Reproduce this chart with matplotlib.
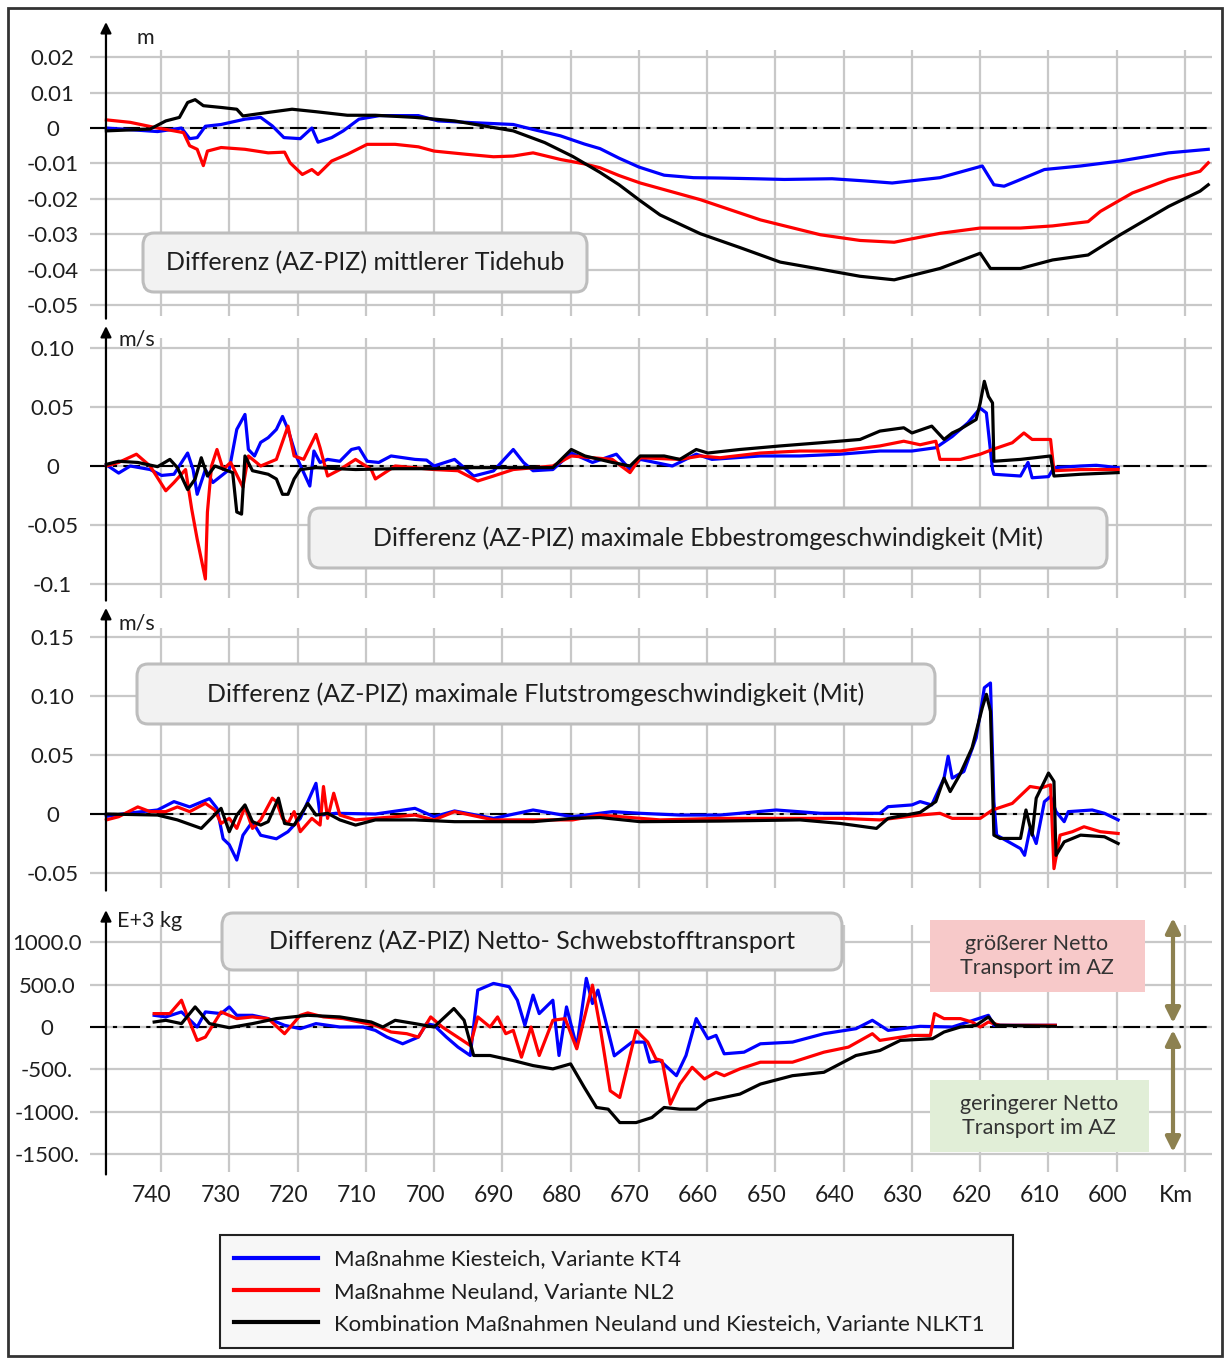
import matplotlib
matplotlib.use("Agg")
import matplotlib.pyplot as plt
from matplotlib.patches import FancyBboxPatch, Rectangle
from matplotlib.transforms import ScaledTranslation

plt.rcParams['font.family'] = ['Lato', 'DejaVu Sans']

# ---- data ----
# panel 1: mittlerer Tidehub [m]
kt4_tide_km = [748, 740.5, 737, 735.8, 734.7, 733.5, 731.2, 727.7, 725.4, 723.7, 722, 719.6, 717.9, 717, 715,
               713.3, 711, 708, 702.3, 699.4, 694.2, 688.4, 685.5, 681.5, 678, 675.7, 672.9, 670, 666.3, 662,
               658.1, 653, 648.7, 641.7, 637, 632.9, 625.9, 619.7, 618, 616.5, 614.7, 610.6, 605.3, 599.5, 592.4, 586.6]
kt4_tide = [0.0, -0.001, 0.0, -0.003, -0.0027, 0.0005, 0.001, 0.0025, 0.003, 0.0006, -0.0027, -0.003, 0.0, -0.004,
            -0.0027, -0.0008, 0.0025, 0.0035, 0.0035, 0.002, 0.0015, 0.001, -0.0004, -0.0022, -0.0045, -0.0058,
            -0.0085, -0.011, -0.0133, -0.014, -0.0141, -0.0143, -0.0145, -0.0143, -0.0149, -0.0155, -0.014,
            -0.0107, -0.016, -0.0164, -0.015, -0.0117, -0.0107, -0.0093, -0.007, -0.006]

nl2_tide_km = [748, 744.5, 740.5, 738.1, 736.7, 735.8, 734.7, 733.8, 733.2, 731.2, 727.7, 724.3, 721.9, 721.1,
               719.3, 717.9, 717, 715, 712.7, 709.8, 705.7, 702.3, 700, 695.3, 691.3, 688.4, 685.5, 681.4, 678,
               675.7, 672.9, 669.8, 661, 652.2, 643.4, 637.6, 632.6, 625.9, 620, 614.1, 609.4, 604.2, 602.4,
               597.7, 592.4, 587.8, 586.6]
nl2_tide = [0.0023, 0.0016, 0.0, -0.0008, -0.0013, -0.005, -0.006, -0.0106, -0.0065, -0.0055, -0.006, -0.007,
            -0.0068, -0.0098, -0.0131, -0.0117, -0.0131, -0.0093, -0.0074, -0.0046, -0.0046, -0.0053, -0.0065,
            -0.0074, -0.0081, -0.0079, -0.007, -0.0089, -0.0101, -0.0112, -0.0134, -0.0155, -0.0202, -0.0259,
            -0.0301, -0.0317, -0.0322, -0.0297, -0.0282, -0.0282, -0.0276, -0.0264, -0.0235, -0.0183, -0.0145,
            -0.0122, -0.0098]

nlkt1_tide_km = [748, 741.6, 739.3, 737.3, 736.1, 735, 733.8, 731.2, 728.9, 728, 724.3, 720.8, 717.3, 712.7,
                 708.6, 702.8, 697, 692.4, 688.4, 683.8, 679.7, 675.7, 672.9, 669.8, 666.9, 661, 655.2, 649.3,
                 643.4, 637.6, 632.6, 625.9, 620, 618.5, 614.1, 609.4, 604.2, 599.5, 592.4, 587.8, 586.6]
nlkt1_tide = [-0.0008, -0.0003, 0.002, 0.003, 0.0072, 0.008, 0.0063, 0.0058, 0.0053, 0.0034, 0.0044, 0.0053,
              0.0046, 0.0036, 0.0036, 0.003, 0.002, 0.0005, -0.0008, -0.0041, -0.008, -0.0125, -0.016, -0.0205,
              -0.0245, -0.0298, -0.0337, -0.0378, -0.0398, -0.0418, -0.0428, -0.0396, -0.0353, -0.0396, -0.0396,
              -0.0372, -0.0358, -0.0301, -0.0221, -0.0178, -0.016]

# panel 2: maximale Ebbestromgeschwindigkeit [m/s]
kt4_ebb_km = [748, 746.2, 744.5, 741.6, 739.9, 738.1, 736.1, 735.3, 734.7, 733.5, 732.4, 730, 728.9, 727.7, 727.2,
              726.3, 725.4, 724.3, 723.1, 722.2, 721.4, 720.2, 719.1, 718.2, 717.6, 716.7, 715.6, 713.8, 712.1, 711,
              709.8, 708.1, 706.3, 702.8, 701.1, 700, 697, 694.2, 691.3, 688.4, 686.9, 685.5, 682.6, 679.9, 676.8,
              673.3, 671.3, 669.8, 665.1, 661.6, 659.3, 652.2, 646.4, 640.5, 634.7, 630, 626.5, 624.1, 621.8, 620,
              619.1, 618.2, 618, 614.1, 613, 612.4, 610, 609.2, 605.3, 603, 599.8]
kt4_ebb = [0.001, -0.006, 0, -0.003, -0.008, -0.007, 0.011, -0.003, -0.024, -0.003, -0.014, -0.003, 0.031, 0.0437,
           0.014, 0.0085, 0.02, 0.024, 0.031, 0.042, 0.031, 0.0085, -0.0056, -0.017, 0.0127, 0.003, 0.0056, 0.004,
           0.014, 0.0155, 0.004, 0.003, 0.0085, 0.0056, 0.005, 0, 0.0056, -0.0085, -0.0042, 0.014, 0.003, -0.004,
           -0.003, 0.011, 0.003, 0.01, -0.003, 0.0056, 0, 0.01, 0.0056, 0.0085, 0.0085, 0.01, 0.0127, 0.0127,
           0.0155, 0.025, 0.0366, 0.049, 0.045, -0.003, -0.007, -0.0085, 0.003, -0.01, -0.009, -0.0014, 0, 0.0006,
           -0.0014]

nl2_ebb_km = [748, 746.2, 743.6, 741.6, 739.3, 738.1, 736.4, 735.5, 734.7, 733.5, 733.2, 732.6, 731.8, 730.9,
              729.8, 728, 727.2, 725.4, 723.1, 721.4, 720.5, 719.1, 717.3, 716.7, 715.6, 713.8, 711.5, 709.2, 708.6,
              705.7, 700, 696.5, 693.6, 691.3, 688.4, 682.6, 679.9, 676.8, 673.9, 671.3, 669.8, 664, 661, 658.1,
              652.2, 646.4, 640.5, 634.7, 631.2, 628.8, 626.5, 625.9, 622.9, 620, 618.2, 615.3, 613.6, 612.4, 609.7,
              609.2, 605.3, 599.8]
nl2_ebb = [0, 0.003, 0.01, 0, -0.021, -0.014, -0.003, -0.0366, -0.062, -0.0958, -0.039, 0, 0.014, -0.003, 0.003,
           -0.018, 0.0085, 0, 0.0056, 0.0338, 0.0085, 0.0056, 0.0268, 0.0155, -0.0085, -0.003, 0.0056, -0.003,
           -0.011, 0, -0.003, -0.004, -0.0127, -0.0085, -0.003, 0, 0.0085, 0.007, 0.0056, -0.0056, 0.007, 0.0056,
           0.0085, 0.007, 0.011, 0.0127, 0.0127, 0.017, 0.021, 0.018, 0.021, 0.0056, 0.0056, 0.01, 0.014, 0.0197,
           0.028, 0.0225, 0.0225, -0.004, -0.003, -0.003]

nlkt1_ebb_km = [748, 746.2, 743.4, 740.5, 738.7, 737.6, 736.1, 735, 734.1, 733.2, 732.1, 729.5, 728.9, 728.2, 727.7,
                726.6, 724.3, 723.1, 722.2, 721.4, 720.5, 719.6, 717.3, 711.5, 705.7, 700, 694.2, 688.4, 682.6,
                679.9, 677.9, 673.9, 671.3, 669.8, 666.3, 664, 661.6, 659.9, 655.2, 649.3, 643.4, 637.6, 634.7,
                631.2, 630, 627.1, 625.3, 624.1, 623, 620.6, 620, 619.4, 618.8, 618.2, 618, 614.1, 609.7, 609.2,
                605.3, 599.8]
nlkt1_ebb = [0.0014, 0.004, 0.003, -0.0006, 0.0056, -0.0014, -0.02, -0.011, 0.007, -0.0085, 0, -0.0056, -0.039,
             -0.0408, 0.0085, -0.004, -0.007, -0.011, -0.024, -0.024, -0.011, -0.003, -0.0014, -0.003, -0.0023,
             -0.0023, -0.0014, -0.0014, -0.0014, 0.014, 0.0085, 0.003, 0, 0.0085, 0.0085, 0.0056, 0.014, 0.011,
             0.014, 0.017, 0.0197, 0.0225, 0.0296, 0.0324, 0.028, 0.0338, 0.0225, 0.028, 0.031, 0.0394, 0.0535,
             0.0718, 0.059, 0.0535, 0.004, 0.0056, 0.0085, -0.0085, -0.007, -0.0056]

# panel 3: maximale Flutstromgeschwindigkeit [m/s]
kt4_flood_km = [748, 745, 740.5, 738.1, 735.8, 732.9, 731.8, 730.9, 730, 728.9, 728, 726.6, 725.4, 723.1, 721.4,
                719.6, 717.3, 716.7, 714.4, 708.6, 702.8, 700, 697, 691.3, 685.5, 679.7, 673.9, 669.8, 664, 658.1,
                649.9, 643.4, 634.7, 633.5, 630, 628.8, 627.1, 625.3, 624.7, 624.1, 622.4, 620.6, 619.7, 619.4,
                618.5, 618, 617.6, 614.1, 613.5, 612.7, 611.8, 610.6, 609.7, 608.9, 607.7, 607.1, 603.6, 601.8, 599.8]
kt4_flood = [-0.002, 0.0006, 0.0034, 0.0105, 0.006, 0.013, 0.0048, -0.021, -0.026, -0.039, -0.018, -0.0065, -0.018,
             -0.021, -0.015, -0.0037, 0.026, -0.001, 0.0006, 0, 0.0048, -0.0023, 0.0026, -0.0037, 0.0034, -0.0023,
             0.002, 0.0006, -0.0009, -0.0009, 0.0034, 0.0006, 0.0006, 0.0062, 0.0077, 0.0105, 0.0077, 0.0304,
             0.0489, 0.0304, 0.036, 0.0645, 0.0957, 0.107, 0.111, 0.0105, -0.0179, -0.0293, -0.035, -0.0122,
             -0.025, 0.0105, 0.0148, 0.002, -0.0065, 0.002, 0.0034, 0.0006, -0.005]

nl2_flood_km = [748, 746.2, 743.4, 741.6, 739.3, 737.6, 735.8, 733.5, 732.1, 731.2, 730, 728.9, 727.7, 726.6, 725.4,
                723.7, 723.1, 722.2, 721.4, 720.5, 719.6, 717.9, 716.7, 716.2, 715.6, 714.7, 713.8, 711.5, 705.7,
                702.8, 700, 697, 691.3, 685.5, 679.7, 675.7, 666.9, 658.1, 649.3, 640.5, 634.7, 628.8, 625.9, 624.1,
                620, 618.2, 615.3, 612.7, 611.2, 609.7, 609.2, 608.3, 606.5, 604.8, 602.4, 599.8]
nl2_flood = [-0.005, -0.0023, 0.006, 0.002, 0.002, 0.006, 0.002, 0.009, 0.0034, -0.008, -0.0037, -0.0122, 0.006,
             -0.0122, -0.005, 0.0134, 0.0105, -0.0037, -0.008, 0.002, -0.015, -0.0037, -0.0094, 0.0233, -0.0037,
             0.0176, -0.0009, -0.005, -0.0023, -0.0009, -0.005, 0.002, -0.005, -0.005, -0.005, -0.0009, -0.005,
             -0.0037, -0.0037, -0.0037, -0.005, -0.0009, 0.0006, -0.0037, -0.0037, 0.0034, 0.009, 0.0233, 0.0219,
             0.0247, -0.0463, -0.0179, -0.015, -0.0108, -0.015, -0.0165]

nlkt1_flood_km = [748, 740.5, 737.6, 734.1, 731.2, 730, 728.9, 727.7, 726.6, 725.4, 724.3, 722.8, 721.9, 720.5,
                  718.5, 717.3, 715.6, 713.8, 711.5, 708.6, 702.8, 697, 685.5, 679.7, 675.7, 669.8, 658.1, 646.4,
                  640.5, 635.2, 633.5, 628.8, 626.5, 625.3, 624.4, 623, 621.2, 619.7, 619.1, 618.5, 618, 617.1,
                  614.1, 613.3, 612.4, 611.8, 610, 609.2, 608.9, 607.7, 605.3, 601.8, 599.8]
nlkt1_flood = [0, -0.0009, -0.005, -0.0122, 0.0048, -0.015, -0.0009, 0.0077, -0.0065, -0.0094, -0.0065, 0.0134,
               -0.008, -0.0094, 0.009, -0.0009, 0.0006, -0.005, -0.0094, -0.005, -0.005, -0.0065, -0.0065, -0.0037,
               -0.003, -0.0065, -0.006, -0.005, -0.008, -0.0122, -0.0037, 0.0014, 0.0105, 0.0304, 0.019, 0.0332,
               0.056, 0.09, 0.1014, 0.087, -0.0179, -0.0207, -0.0207, 0.0034, -0.0179, 0.0134, 0.0347, 0.0276,
               -0.035, -0.0236, -0.0179, -0.0193, -0.025]

# panel 4: Netto-Schwebstofftransport [E+3 kg]
kt4_sed_km = [741, 739.3, 737, 734.7, 733.5, 731.2, 730, 728.9, 726.6, 724.3, 721.9, 719.6, 717.3, 713.8, 710.4,
              708.6, 706.9, 704.6, 702.3, 701.1, 700, 698.2, 696.5, 694.7, 693.6, 691.3, 689, 687.8, 686.7, 685.5,
              684.6, 682.6, 681.7, 680.6, 679.1, 677.7, 676.8, 676, 673.6, 671, 669.2, 668.4, 666.9, 664.5, 663.1,
              661.6, 659.9, 658.7, 657.5, 654.6, 652.2, 647.5, 642.9, 638.2, 635.8, 633.5, 628.8, 624.1, 621.8,
              618.8, 618, 609]
kt4_sed = [138, 119, 178, 0, 178, 158, 237, 138, 138, 99, 20, -20, 40, 0, 0, -40, -119, -198, -119, 40, 20, -119,
           -237, -336, 435, 514, 475, 316, 20, 376, 158, 316, -336, 237, -237, 574, 277, 435, -340, -178, -178,
           -415, -396, -574, -336, 99, -138, -99, -316, -297, -198, -178, -79, -20, 79, -40, 8, 0, 59, 138, 20, 20]

nl2_sed_km = [741, 738.7, 737, 736.1, 734.7, 733.5, 731.2, 728.9, 726.6, 724.3, 721.9, 719.6, 718.5, 716.2, 713.3,
              708.6, 706.3, 704, 702.3, 700.5, 698.8, 694.7, 693.6, 691.8, 690.7, 689.5, 688.4, 687.2, 685.8, 684.6,
              682.6, 680.8, 679.1, 676.8, 675.6, 674.2, 672.8, 670.4, 668.7, 667.5, 666.6, 665.4, 664, 662.2, 660.4,
              658.7, 657.5, 655.2, 652.2, 647.5, 642.9, 639.3, 635.8, 634.7, 630, 627.3, 626.7, 625.3, 622.9, 621.2,
              620, 618.8, 617.1, 609]
nl2_sed = [158, 158, 316, 119, -158, -119, 178, 99, 119, 99, -79, 138, 166, 119, 99, 20, -59, -79, -119, 119, 0,
           -218, 119, 0, 119, -79, -40, -356, 0, -336, 79, 99, -257, 494, -40, -752, -831, -40, -178, -376, -396,
           -910, -673, -475, -613, -534, -574, -494, -415, -415, -297, -237, -79, -158, -99, -99, 158, 99, 99, 59,
           0, 59, 20, 20]

nlkt1_sed_km = [741, 739.3, 737, 735, 732.9, 730, 726.6, 723.1, 718.5, 713.8, 709.2, 707.5, 705.7, 702.8, 700,
                697.1, 695.6, 694.2, 691.8, 688.4, 685.5, 682.6, 680, 678, 676.2, 674.5, 672.8, 670.4, 668.1, 666.3,
                664, 661.6, 659.9, 655.2, 652.2, 647.5, 642.9, 638.2, 634.7, 631.7, 627, 625.3, 622.9, 620.6, 618.8,
                617.7, 609]
nlkt1_sed = [59, 79, 40, 237, 40, -8, 40, 99, 138, 119, 59, 0, 79, 40, 0, 218, 79, -336, -336, -396, -455, -494,
             -435, -712, -949, -969, -1127, -1127, -1068, -949, -969, -969, -870, -791, -673, -574, -534, -336,
             -277, -158, -138, -59, 0, 20, 119, 20, 8]

km_ticks = [740, 730, 720, 710, 700, 690, 680, 670, 660, 650, 640, 630, 620, 610, 600, 590]
km_labels = ['740', '730', '720', '710', '700', '690', '680', '670', '660', '650', '640', '630', '620', '610', '600', 'Km']

tide_ticks = [0.02, 0.01, 0, -0.01, -0.02, -0.03, -0.04, -0.05]
tide_labels = ['0.02', '0.01', '0', '-0.01', '-0.02', '-0.03', '-0.04', '-0.05']
ebb_ticks = [0.10, 0.05, 0, -0.05, -0.1]
ebb_labels = ['0.10', '0.05', '0', '-0.05', '-0.1']
flood_ticks = [0.15, 0.10, 0.05, 0, -0.05]
flood_labels = ['0.15', '0.10', '0.05', '0', '-0.05']
sed_ticks = [1000, 500, 0, -500, -1000, -1500]
sed_labels = ['1000.0', '500.0', '0', '-500.', '-1000.', '-1500.']

legend_labels = ['Maßnahme Kiesteich, Variante KT4',
                 'Maßnahme Neuland, Variante NL2',
                 'Kombination Maßnahmen Neuland und Kiesteich, Variante NLKT1']
colors = ['#0000ff', '#ff0000', '#000000']

# ---- figure ----
W, H = 1227, 1359
fig = plt.figure(figsize=(W / 100, H / 100), dpi=100)


def fx(px):
    return px / W


def fy(py):
    return 1 - py / H


TXT = '#1e1e1e'
GRID = '#c8c8c8'

panels = [
    # top px, bottom px, ylim, ticks, labels, unit, unit pos, arrow top, series
    (50, 316, (-0.053, 0.022), tide_ticks, tide_labels, 'm', (137, 38), 1.105,
     [(kt4_tide_km, kt4_tide), (nl2_tide_km, nl2_tide), (nlkt1_tide_km, nlkt1_tide)]),
    (338, 598, (-0.1119, 0.1085), ebb_ticks, ebb_labels, 'm/s', (119, 340), 1.046,
     [(kt4_ebb_km, kt4_ebb), (nl2_ebb_km, nl2_ebb), (nlkt1_ebb_km, nlkt1_ebb)]),
    (628, 888, (-0.0627, 0.1576), flood_ticks, flood_labels, 'm/s', (119, 623), 1.077,
     [(kt4_flood_km, kt4_flood), (nl2_flood_km, nl2_flood), (nlkt1_flood_km, nlkt1_flood)]),
    (925, 1172, (-1710, 1203), sed_ticks, sed_labels, 'E+3 kg', (117, 921), 1.06,
     [(kt4_sed_km, kt4_sed), (nl2_sed_km, nl2_sed), (nlkt1_sed_km, nlkt1_sed)]),
]

axes = []
for i, (top, bot, ylim, yt, ylab, unit, upos, atop, series) in enumerate(panels):
    ax = fig.add_axes([fx(90), fy(bot), fx(1212) - fx(90), (bot - top) / H])
    ax.set_xlim(750.4, 586.05)
    ax.set_ylim(*ylim)
    ax.set_xticks(km_ticks)
    ax.set_yticks(yt)
    ax.set_yticklabels(ylab)
    ax.grid(True, color=GRID, lw=1.6)
    ax.set_axisbelow(True)
    for s in ax.spines.values():
        s.set_visible(False)
    ax.tick_params(length=0, labelsize=16, labelcolor=TXT)
    ax.tick_params(axis='y', pad=27 if i < 3 else 31)
    for lab in ax.get_yticklabels():
        lab.set_horizontalalignment('center')
    if i < 3:
        ax.set_xticklabels([])
    else:
        ax.set_xticklabels(km_labels)
        ax.tick_params(axis='x', pad=9, labelsize=16.5)
        for lab in ax.get_xticklabels():
            lab.set_transform(lab.get_transform() + ScaledTranslation(-0.09, 0, fig.dpi_scale_trans))

    ax.axhline(0, color='black', lw=1.5, dashes=(8, 3, 2, 3), zorder=1.5)
    for (km, vals), c in zip(series, colors):
        ax.plot(km, vals, color=c, lw=2.3, zorder=2)

    ax.annotate('', xy=(748.06, atop), xycoords=('data', 'axes fraction'),
                xytext=(748.06, -0.01), textcoords=('data', 'axes fraction'),
                arrowprops=dict(arrowstyle='-|>', color='black', lw=1.6, mutation_scale=16,
                                shrinkA=0, shrinkB=0),
                annotation_clip=False)
    fig.text(fx(upos[0]), fy(upos[1]), unit, ha='left', va='center', fontsize=15.5, color=TXT)
    axes.append(ax)

# title boxes
title_boxes = [
    ((143, 233, 587, 292), 'Differenz (AZ-PIZ) mittlerer Tidehub'),
    ((309, 508, 1107, 568), 'Differenz (AZ-PIZ) maximale Ebbestromgeschwindigkeit (Mit)'),
    ((137, 664, 935, 724), 'Differenz (AZ-PIZ) maximale Flutstromgeschwindigkeit (Mit)'),
    ((222, 913, 842, 970), 'Differenz (AZ-PIZ) Netto- Schwebstofftransport'),
]
for (x0, y0, x1, y1), s in title_boxes:
    fig.add_artist(FancyBboxPatch((fx(x0), fy(y1)), fx(x1 - x0), (y1 - y0) / H,
                                  boxstyle='round,pad=0,rounding_size=0.009',
                                  transform=fig.transFigure, fc='#f2f2f2', ec='#bdbdbd', lw=2.2, zorder=3))
    fig.text(fx((x0 + x1) / 2), fy((y0 + y1) / 2), s, ha='center', va='center',
             fontsize=18, color=TXT, zorder=4)

# coloured annotation boxes in bottom panel
fig.add_artist(Rectangle((fx(930), fy(992)), fx(215), 72 / H, transform=fig.transFigure,
                         fc='#f7c9c9', ec='none', zorder=3))
fig.text(fx(1037), fy(956), 'größerer Netto\nTransport im AZ', ha='center', va='center',
         fontsize=15.5, color='#333333', linespacing=1.3, zorder=4)
fig.add_artist(Rectangle((fx(930), fy(1152)), fx(219), 72 / H, transform=fig.transFigure,
                         fc='#e1eed7', ec='none', zorder=3))
fig.text(fx(1039), fy(1116), 'geringerer Netto\nTransport im AZ', ha='center', va='center',
         fontsize=15.5, color='#333333', linespacing=1.3, zorder=4)

for ya, yb in [(918, 1023), (1030, 1152)]:
    fig.add_artist(plt.matplotlib.text.Annotation(
        '', xy=(fx(1173), fy(ya)), xycoords='figure fraction',
        xytext=(fx(1173), fy(yb)), textcoords='figure fraction',
        arrowprops=dict(arrowstyle='<|-|>', color='#8d8150', lw=3, mutation_scale=22,
                        shrinkA=0, shrinkB=0)))

# legend
handles = axes[3].get_lines()[1:4]
leg = fig.legend(handles, legend_labels, loc='upper left',
                 bbox_to_anchor=(fx(220), fy(1350), fx(793), 115 / H), mode='expand',
                 borderaxespad=0, fontsize=16, frameon=True, fancybox=False,
                 edgecolor='#222222', facecolor='#f7f7f7', framealpha=1,
                 handlelength=3.75, handletextpad=0.75, labelspacing=0.55, borderpad=0.65)
leg.get_frame().set_linewidth(1.5)
for t in leg.get_texts():
    t.set_color(TXT)
for l in leg.get_lines():
    l.set_linewidth(3)

# outer frame
fig.add_artist(Rectangle((fx(8), fy(1356)), fx(1214), 1348 / H, transform=fig.transFigure,
                         fc='none', ec='#333333', lw=2, zorder=0))

fig.savefig('out.png', dpi=100)
